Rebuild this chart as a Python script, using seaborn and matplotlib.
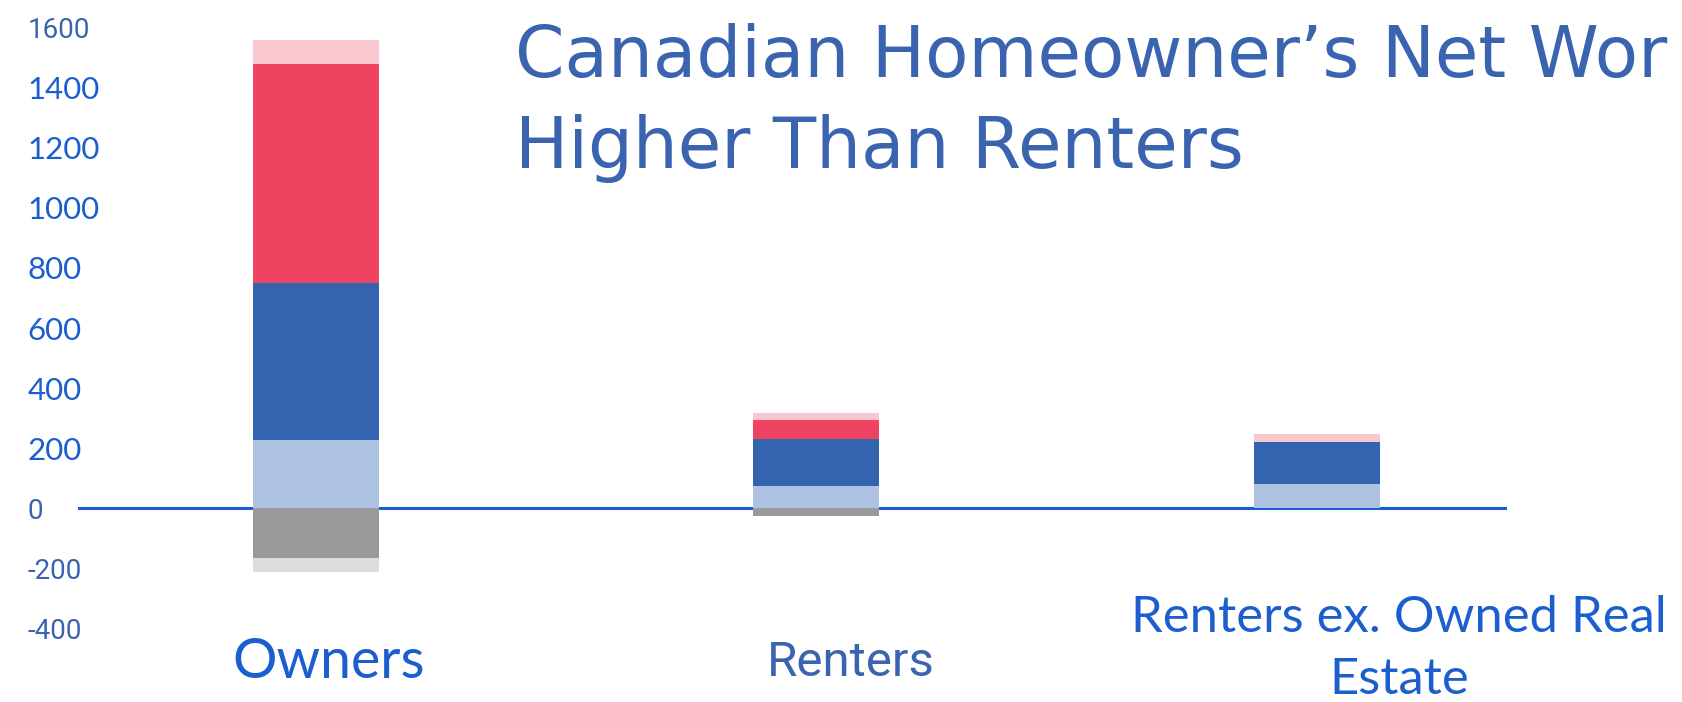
import numpy as np
import matplotlib
matplotlib.use("Agg")
import matplotlib.pyplot as plt
import matplotlib.transforms as mtransforms
import seaborn as sns

# ---- data ----
categories = ["Owners", "Renters", "Renters ex. Owned Real Estate"]
category_labels = ["Owners", "Renters", "Renters ex. Owned Real\nEstate"]
financial_assets = [227, 73, 80]      # light blue
pension_assets = [523, 157, 140]      # blue
principal_residence = [730, 63, 0]    # red
other_real_estate = [80, 23, 27]      # pink
mortgage_debt = [-167, -27, 0]        # gray
other_debt = [-47, 0, 0]              # light gray
y_ticks = [-400, -200, 0, 200, 400, 600, 800, 1000, 1200, 1400, 1600]

# ---- style ----
sns.set_theme(style="white")
plt.rcParams["font.family"] = ["Roboto", "DejaVu Sans"]

BRIGHT = "#1B5FCF"
MUTED = "#3A64B0"
colors = {
    "lightblue": "#ADC1E1",
    "blue": "#3464B0",
    "red": "#EF4362",
    "pink": "#F9C7D0",
    "gray": "#999999",
    "lightgray": "#DDDDDD",
}

W, H = 1682, 702
fig = plt.figure(figsize=(W / 100, H / 100), dpi=100)
fig.patch.set_facecolor("white")
ax_left, ax_right, ax_bottom_px = 78, 1507, 635
ax = fig.add_axes([ax_left / W, (H - ax_bottom_px) / H,
                   (ax_right - ax_left) / W, ax_bottom_px / H])
ax.set_facecolor("white")

# stacked bars drawn as cumulative totals (tallest first)
pos_layers = [
    (financial_assets, colors["lightblue"]),
    (pension_assets, colors["blue"]),
    (principal_residence, colors["red"]),
    (other_real_estate, colors["pink"]),
]
neg_layers = [
    (mortgage_debt, colors["gray"]),
    (other_debt, colors["lightgray"]),
]
pos_cum = np.cumsum(np.array([l[0] for l in pos_layers], dtype=float), axis=0)
neg_cum = np.cumsum(np.array([l[0] for l in neg_layers], dtype=float), axis=0)

for i in range(len(pos_layers) - 1, -1, -1):
    sns.barplot(x=categories, y=pos_cum[i], color=pos_layers[i][1], width=0.252,
                saturation=1, errorbar=None, linewidth=0, ax=ax, zorder=3)
for i in range(len(neg_layers) - 1, -1, -1):
    sns.barplot(x=categories, y=neg_cum[i], color=neg_layers[i][1], width=0.252,
                saturation=1, errorbar=None, linewidth=0, ax=ax, zorder=3)

ax.axhline(0, color=BRIGHT, lw=2.2, zorder=2)

ax.set_xlim(-0.475, 2.38)
ax.set_ylim(-423, 1693)
for s in ax.spines.values():
    s.set_visible(False)
ax.grid(False)

# y tick labels (left aligned)
ax.set_yticks(y_ticks)
ax.set_yticklabels([str(v) for v in y_ticks])
ax.tick_params(axis="y", length=0, pad=36.5)
for lab, v in zip(ax.get_yticklabels(), y_ticks):
    lab.set_horizontalalignment("left")
    if v in (1600, 0, -200, -400):
        lab.set_color(MUTED)
        lab.set_fontfamily(["Roboto", "DejaVu Sans"])
        lab.set_fontsize(20)
    else:
        lab.set_color(BRIGHT)
        lab.set_fontfamily(["Lato", "DejaVu Sans"])
        lab.set_fontsize(22.5)

# x tick labels
ax.set_xticks(range(len(categories)))
ax.set_xticklabels(category_labels)
ax.tick_params(axis="x", length=0, pad=20)
x_offsets_px = [(13, 0), (35, 0), (82, 14)]
x_styles = [
    (BRIGHT, "Lato", 40, 1.0),
    (MUTED, "Roboto", 35.5, 1.0),
    (BRIGHT, "Lato", 36.5, 1.42),
]
for lab, (dx, dy), (c, fam, fs, ls) in zip(ax.get_xticklabels(), x_offsets_px, x_styles):
    lab.set_color(c)
    lab.set_fontfamily([fam, "DejaVu Sans"])
    lab.set_fontsize(fs)
    lab.set_verticalalignment("center")
    lab.set_multialignment("center")
    lab.set_linespacing(ls)
    lab.set_transform(lab.get_transform() +
                      mtransforms.ScaledTranslation(dx / 100, dy / 100, fig.dpi_scale_trans))

# title (runs to the right edge as in the reference)
fig.text(515 / W, 1 - 168 / H, "Canadian Homeowner\u2019s Net Wor\nHigher Than Renters",
         color=MUTED, fontsize=51, fontfamily=["DejaVu Sans"],
         ha="left", va="baseline", linespacing=1.4)

fig.savefig("out.png", dpi=100, facecolor="white")
